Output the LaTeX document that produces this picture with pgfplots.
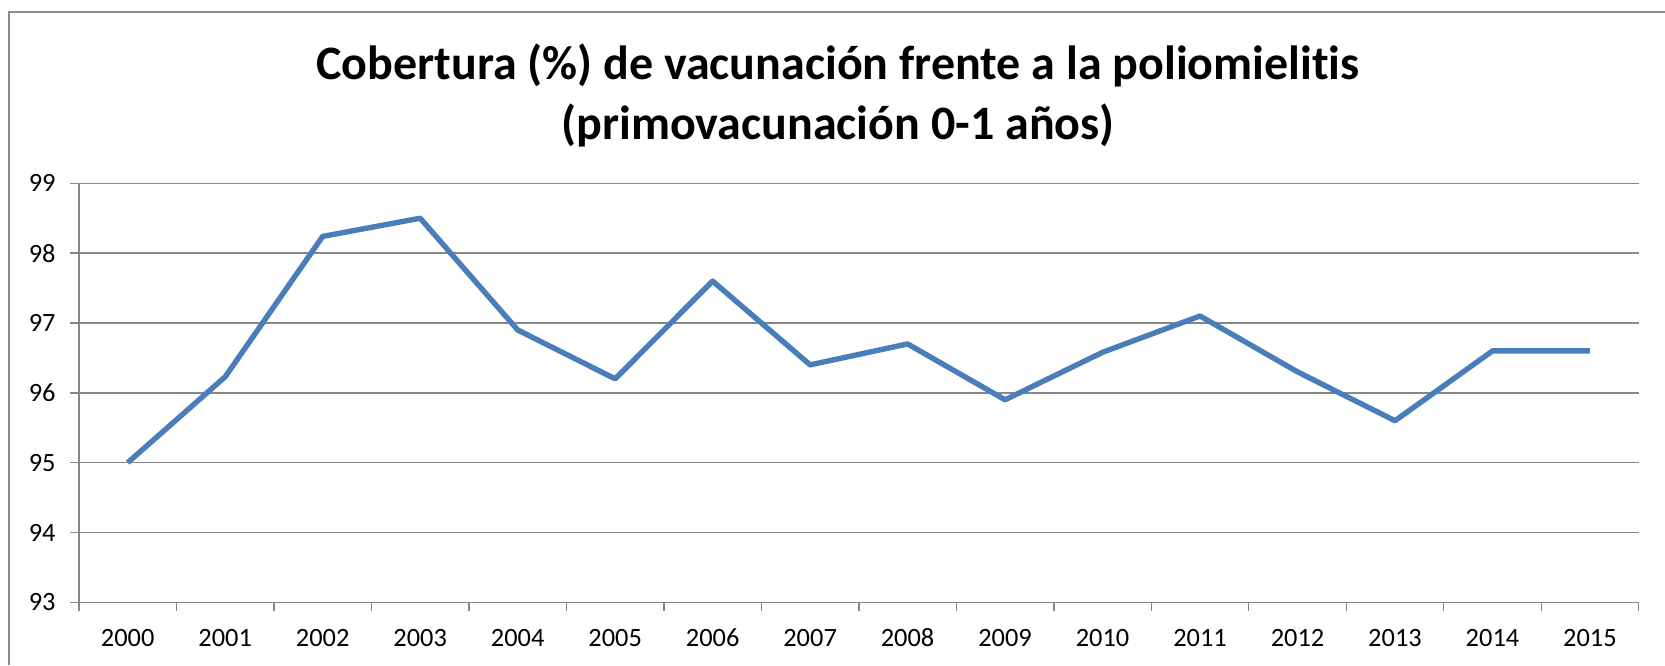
\documentclass[border=0pt]{standalone}
\usepackage{fontspec}
\setmainfont{Carlito}[Ligatures=NoCommon]
\usepackage{pgfplots}
\pgfplotsset{compat=1.18}
\definecolor{linec}{HTML}{4A7EBB}
\definecolor{gridc}{HTML}{878787}
\definecolor{framec}{HTML}{8C8C8C}
\begin{document}
\begin{tikzpicture}
\useasboundingbox (0,0) rectangle (832.5pt,332.5pt);
\draw[framec, line width=1pt] (4.5pt,0) -- (4.5pt,326.5pt) -- (832.5pt,326.5pt);
\node[anchor=base, inner sep=0pt, font=\fontsize{24}{28}\selectfont\bfseries] at (419pt,292.5pt) {Cobertura (\%) de vacunación frente a la poliomielitis};
\node[anchor=base, inner sep=0pt, font=\fontsize{24}{28}\selectfont\bfseries] at (419pt,262.5pt) {(primovacunación 0-1 años)};
\begin{axis}[
  at={(39.5pt,31.35pt)}, anchor=south west,
  scale only axis, width=779.85pt, height=209.5pt,
  xmin=-0.5, xmax=15.5, ymin=93, ymax=99,
  ytick={93,94,95,96,97,98,99},
  xtick={0,1,2,3,4,5,6,7,8,9,10,11,12,13,14,15},
  xticklabels={2000,2001,2002,2003,2004,2005,2006,2007,2008,2009,2010,2011,2012,2013,2014,2015},
  minor xtick={-0.5,0.5,1.5,2.5,3.5,4.5,5.5,6.5,7.5,8.5,9.5,10.5,11.5,12.5,13.5,14.5,15.5},
  axis x line*=bottom, axis y line*=left,
  axis line style={gridc, line width=0.7pt, -},
  ymajorgrids, grid style={gridc, line width=0.7pt},
  major x tick style={draw=none},
  tick align=outside, major tick length=4.5pt, minor tick length=4.5pt,
  tick style={gridc, line width=0.7pt},
  ticklabel style={font=\fontsize{13.2}{15}\selectfont, text=black},
  xticklabel style={anchor=base, yshift=-17.65pt},
  yticklabel style={xshift=-3.7pt},
  /pgf/number format/assume math mode=true,
  clip=false,
]
\addplot[linec, line width=2.7pt, line join=round, mark=none] coordinates {
(0,95.0) (1,96.23) (2,98.24) (3,98.5) (4,96.9) (5,96.2) (6,97.6) (7,96.4)
(8,96.7) (9,95.9) (10,96.58) (11,97.1) (12,96.3) (13,95.6) (14,96.6) (15,96.6)
};
\end{axis}
\end{tikzpicture}
\end{document}
